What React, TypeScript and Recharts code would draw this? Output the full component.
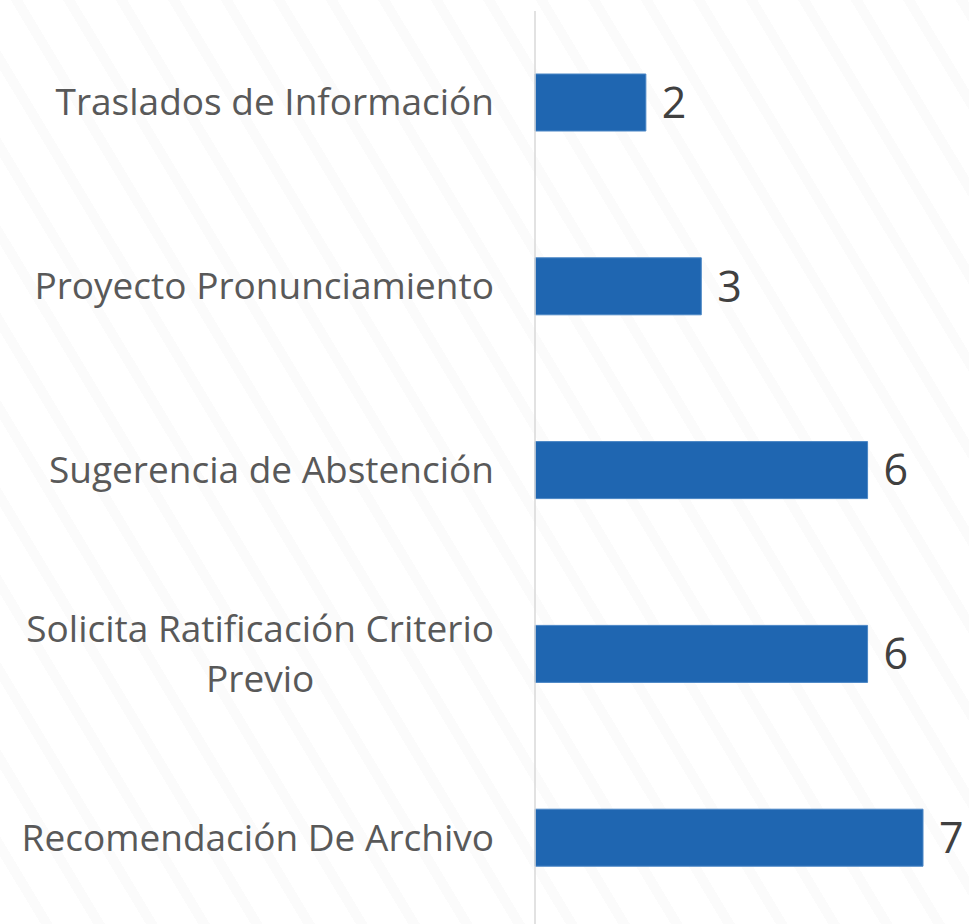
import React from "react";
import { BarChart, Bar, XAxis, YAxis, LabelList } from "recharts";

const categories = [
  "Traslados de Información",
  "Proyecto Pronunciamiento",
  "Sugerencia de Abstención",
  "Solicita Ratificación Criterio Previo",
  "Recomendación De Archivo",
];
const values = [2, 3, 6, 6, 7];
const tickLines: string[][] = [
  ["Traslados de Información"],
  ["Proyecto Pronunciamiento"],
  ["Sugerencia de Abstención"],
  ["Solicita Ratificación Criterio", "Previo"],
  ["Recomendación De Archivo"],
];

const data = categories.map((name, i) => ({ name, value: values[i] }));

const FONT = "'Open Sans', sans-serif";
const TICK_SIZE = 37;
const LINE_H = 50.6;

let ctx: CanvasRenderingContext2D | null = null;
function measure(t: string): number {
  if (!ctx) ctx = document.createElement("canvas").getContext("2d");
  if (!ctx) return t.length * TICK_SIZE * 0.5;
  ctx.font = `${TICK_SIZE}px 'Open Sans'`;
  return ctx.measureText(t).width;
}

const CategoryTick = (props: any) => {
  const { x, y, index } = props;
  const lines = tickLines[index] || [props.payload.value];
  const right = x - 41;
  const n = lines.length;
  const w0 = measure(lines[0]);
  return (
    <g>
      {lines.map((l, i) => {
        const by = y + 12.5 + (i - (n - 1) / 2) * LINE_H;
        if (n === 1 || i === 0) {
          return (
            <text key={i} x={right} y={by} textAnchor="end" fontSize={TICK_SIZE} fontFamily={FONT} fill="#595959">
              {l}
            </text>
          );
        }
        return (
          <text key={i} x={right - w0 / 2} y={by} textAnchor="middle" fontSize={TICK_SIZE} fontFamily={FONT} fill="#595959">
            {l}
          </text>
        );
      })}
    </g>
  );
};

export default function App() {
  return (
    <div
      style={{
        position: "absolute",
        left: 0,
        top: 0,
        width: 969,
        height: 924,
        overflow: "hidden",
        background:
          "repeating-linear-gradient(59deg, #ffffff 0px, #ffffff 35px, #fbfbfb 35px, #fbfbfb 45px)",
      }}
    >
      <BarChart
        width={969}
        height={930}
        data={data}
        layout="vertical"
        margin={{ top: 11, right: 46, bottom: 0, left: 0 }}
      >
        <XAxis type="number" domain={[0, 7]} hide />
        <YAxis
          type="category"
          dataKey="name"
          width={535}
          axisLine={{ stroke: "#d9d9d9", strokeWidth: 1.5 }}
          tickLine={false}
          tickSize={0}
          tickMargin={0}
          tick={<CategoryTick />}
          interval={0}
        />
        <Bar dataKey="value" fill="#1f66b1" stroke="#4a86c5" strokeWidth={1} barSize={57} isAnimationActive={false}>
          <LabelList dataKey="value" position="right" offset={16} fontSize={43} fontFamily={FONT} fill="#404040" />
        </Bar>
      </BarChart>
    </div>
  );
}
